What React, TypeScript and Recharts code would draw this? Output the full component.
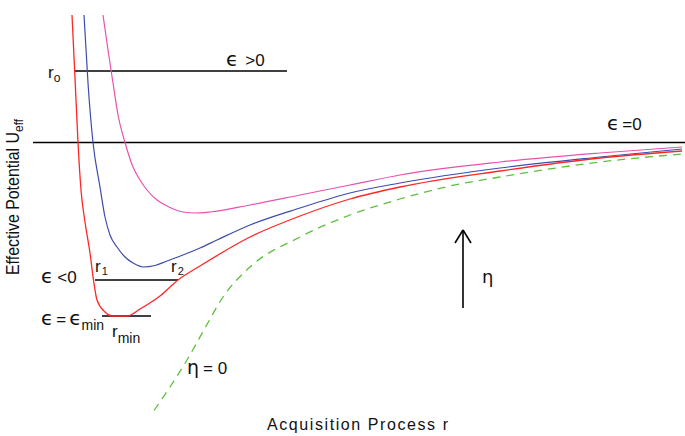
import React from 'react';
import { LineChart, Line, XAxis, YAxis, ReferenceLine, Customized } from 'recharts';

// r (acquisition process) vs effective potential U_eff, schematic units
const redCurve: [number, number][] = [
  [3.9, 12.75], [4.2, 6.45], [4.5, 0], [4.8, -4.75], [5.2, -7.95], [5.7, -11.05],
  [6.05, -13.75], [6.4, -15.75], [7.2, -16.95], [8.0, -17.35], [9.4, -17.35], [10.7, -16.65],
  [12.7, -15.35], [14.5, -13.75], [16.7, -12.35], [21.7, -9.45], [26.7, -7.35], [31.7, -5.65],
  [36.7, -4.45], [46.7, -2.85], [56.7, -1.55], [64.9, -0.85],
];
const blueCurve: [number, number][] = [
  [5.1, 12.75], [5.5, 5.95], [6.0, 0], [6.7, -4.45], [7.2, -7.45], [7.7, -9.25], [8.4, -10.45],
  [9.2, -11.45], [10.0, -12.05], [11.0, -12.45], [12.2, -12.3], [13.4, -11.85], [15.0, -11.25],
  [16.7, -10.55], [18.4, -9.75], [21.7, -8.25], [26.7, -6.55], [31.7, -5.05], [36.7, -4.05],
  [46.7, -2.55], [56.7, -1.45], [64.9, -0.65],
];
const pinkCurve: [number, number][] = [
  [7.0, 12.75], [7.5, 9.25], [8.0, 5.95], [8.5, 2.75], [9.2, 0], [10.0, -2.45], [10.7, -3.75],
  [11.4, -4.75], [12.4, -5.75], [13.4, -6.35], [15.0, -6.95], [16.2, -7.05], [17.7, -6.95],
  [21.7, -6.25], [26.7, -5.25], [31.7, -4.25], [36.7, -3.25], [46.7, -1.95], [56.7, -1.05],
  [64.9, -0.45],
];
const greenCurve: [number, number][] = [
  [12.1, -26.8], [13.7, -24.45], [15.4, -21.75], [17.2, -18.55], [19.0, -15.45], [21.7, -12.45],
  [26.7, -9.45], [31.7, -7.25], [36.7, -5.65], [41.7, -4.35], [46.7, -3.45], [56.7, -1.95],
  [64.9, -1.15],
];

// energy levels
const levelPositive = { U: 7.15, r1: 4.2, r2: 25.4 };
const levelNegative = { U: -13.75, r1: 6.2, r2: 14.5 };
const levelMin = { U: -17.35, r1: 6.9, r2: 11.8 };
const arrowShaft = { r: 43.0, from: -16.55, to: -8.75 };
const arrowHead = { left: 42.2, right: 43.8, U: -10.05 };

const toRows = (pts: [number, number][]) => pts.map(([r, U]) => ({ r, U }));

const W = 685;
const H = 436;
const FONT = '"Liberation Sans", Arial, Helvetica, sans-serif';
const GREEK = '"DejaVu Sans", sans-serif';

const Annotations = () => (
  <g fontFamily={FONT} fill="#111">
    {/* r0 */}
    <text x={48} y={78} fontSize={17}>r<tspan fontSize={12} dy={4}>o</tspan></text>
    {/* eps > 0 */}
    <text x={226} y={66} fontSize={17}>
      <tspan fontFamily={GREEK} fontSize={20}>ϵ</tspan><tspan dx={7}>&gt;0</tspan>
    </text>
    {/* eps = 0 */}
    <text x={607} y={130} fontSize={17}>
      <tspan fontFamily={GREEK} fontSize={20}>ϵ</tspan><tspan dx={3}>=0</tspan>
    </text>
    {/* eps < 0 */}
    <text x={41} y={283} fontSize={17}>
      <tspan fontFamily={GREEK} fontSize={20}>ϵ</tspan><tspan dx={4}>&lt;0</tspan>
    </text>
    {/* r1, r2 */}
    <text x={95} y={272} fontSize={17}>r<tspan fontSize={11} dy={3} dx={1}>1</tspan></text>
    <text x={171} y={272} fontSize={17}>r<tspan fontSize={11} dy={3} dx={1}>2</tspan></text>
    {/* eps = eps_min */}
    <text x={41} y={325} fontSize={17}>
      <tspan fontFamily={GREEK} fontSize={20}>ϵ</tspan><tspan dx={3}>=</tspan>
      <tspan dx={3} fontFamily={GREEK} fontSize={20}>ϵ</tspan>
      <tspan fontSize={14} dy={5}>min</tspan>
    </text>
    {/* r_min */}
    <text x={112} y={337} fontSize={17}>r<tspan fontSize={14} dy={6}>min</tspan></text>
    {/* eta = 0 */}
    <text x={187} y={374} fontSize={17}>
      <tspan fontFamily={GREEK} fontSize={19}>η</tspan><tspan dx={4}>= 0</tspan>
    </text>
    {/* eta near arrow */}
    <text x={482} y={283} fontFamily={GREEK} fontSize={18}>η</text>
    {/* axis titles */}
    <text x={267} y={430} fontSize={16} textLength={181} lengthAdjust="spacing">Acquisition Process r</text>
    <text
      transform="translate(19,275) rotate(-90)"
      fontFamily={'"Liberation Sans Narrow", "Arial Narrow", "Liberation Sans", Arial, sans-serif'}
      fontSize={18}
    >
      <tspan textLength={143} lengthAdjust="spacingAndGlyphs">Effective Potential U</tspan>
      <tspan fontSize={12} dy={4}>eff</tspan>
    </text>
  </g>
);

export default function App() {
  return (
    <div style={{ position: 'absolute', left: 0, top: 0, width: W, height: H, background: '#fff' }}>
      <LineChart width={W} height={H} margin={{ top: 0, right: 0, left: 33, bottom: 25 }}>
        <XAxis dataKey="r" type="number" domain={[0, 65.2]} allowDataOverflow hide />
        <YAxis
          type="number"
          domain={[-26.85, 14.25]}
          allowDataOverflow
          width={0}
          tick={false}
          tickLine={false}
          axisLine={{ stroke: '#000', strokeWidth: 2 }}
        />
        <ReferenceLine y={0} stroke="#000" strokeWidth={1.6} />
        <ReferenceLine
          segment={[{ x: levelPositive.r1, y: levelPositive.U }, { x: levelPositive.r2, y: levelPositive.U }]}
          stroke="#000" strokeWidth={1.6}
        />
        <ReferenceLine
          segment={[{ x: levelNegative.r1, y: levelNegative.U }, { x: levelNegative.r2, y: levelNegative.U }]}
          stroke="#000" strokeWidth={1.6}
        />
        <ReferenceLine
          segment={[{ x: levelMin.r1, y: levelMin.U }, { x: levelMin.r2, y: levelMin.U }]}
          stroke="#000" strokeWidth={1.6}
        />
        <ReferenceLine
          segment={[{ x: arrowShaft.r, y: arrowShaft.from }, { x: arrowShaft.r, y: arrowShaft.to }]}
          stroke="#000" strokeWidth={1.6}
        />
        <ReferenceLine
          segment={[{ x: arrowHead.left, y: arrowHead.U }, { x: arrowShaft.r, y: arrowShaft.to }]}
          stroke="#000" strokeWidth={1.6}
        />
        <ReferenceLine
          segment={[{ x: arrowHead.right, y: arrowHead.U }, { x: arrowShaft.r, y: arrowShaft.to }]}
          stroke="#000" strokeWidth={1.6}
        />
        <Line data={toRows(greenCurve)} dataKey="U" type="monotone" stroke="#5cc03c" strokeWidth={1.3}
          strokeDasharray="8 6" dot={false} isAnimationActive={false} />
        <Line data={toRows(pinkCurve)} dataKey="U" type="monotone" stroke="#e852ae" strokeWidth={1.2}
          dot={false} isAnimationActive={false} />
        <Line data={toRows(blueCurve)} dataKey="U" type="monotone" stroke="#3c4cae" strokeWidth={1.2}
          dot={false} isAnimationActive={false} />
        <Line data={toRows(redCurve)} dataKey="U" type="monotone" stroke="#ff2626" strokeWidth={1.3}
          dot={false} isAnimationActive={false} />
        <Customized component={Annotations} />
      </LineChart>
    </div>
  );
}
